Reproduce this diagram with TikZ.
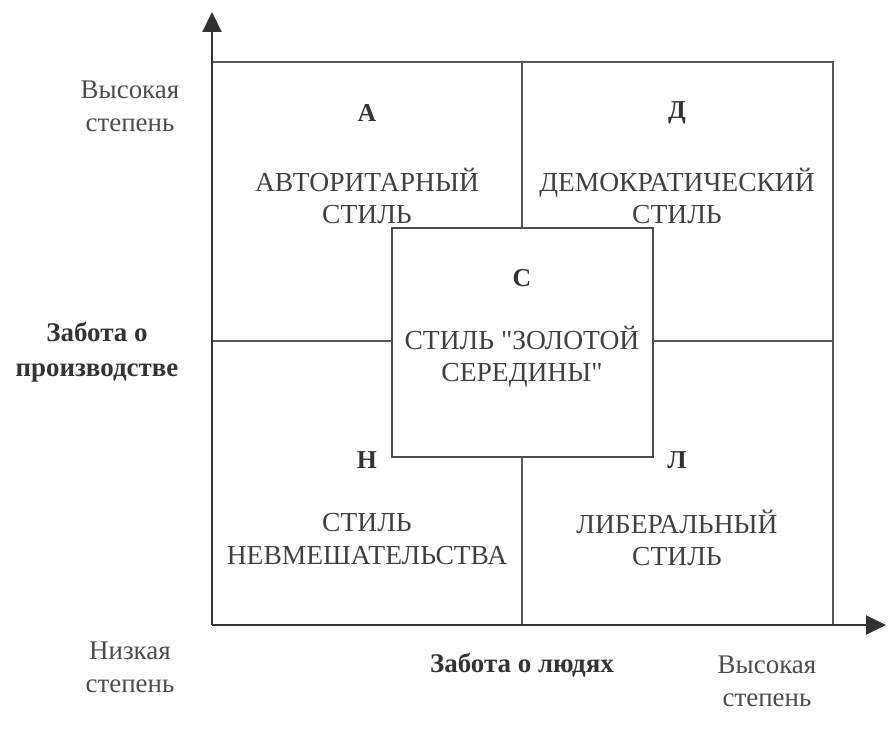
\documentclass[tikz,border=0pt]{standalone}
\usepackage{fontspec}
\setmainfont{Liberation Serif}[Ligatures=TeXOff]
\usetikzlibrary{arrows.meta}
\begin{document}
\begin{tikzpicture}[x=0.03cm,y=-0.03cm,
  axis/.style={line width=2.4pt,draw=black!80,-{Triangle[length=17pt,width=16pt]}},
  grid/.style={line width=1.1pt,draw=black!65},
  txt/.style={align=center,text=black!75,font=\fontsize{23.5}{27.5}\selectfont,inner sep=0pt},
  letter/.style={text=black!80,font=\fontsize{22}{25}\selectfont\bfseries,inner sep=0pt},
  axlab/.style={align=center,text=black!80,font=\fontsize{23}{29.5}\selectfont\bfseries,inner sep=0pt},
  degree/.style={align=center,text=black!70,font=\fontsize{23}{28}\selectfont,inner sep=0pt},
  ]
\useasboundingbox (0,0) rectangle (895,736);
% corners
\coordinate (O) at (212,625);
\coordinate (TL) at (212,62);
\coordinate (TR) at (833,62);
\coordinate (BR) at (833,625);
\coordinate (TM) at (522,62);
\coordinate (BM) at (522,625);
\coordinate (LM) at (212,341);
\coordinate (RM) at (833,341);
\coordinate (Ytip) at (212,12);
\coordinate (Xtip) at (886,625);
% grid
\draw[grid] (TL) -- (TR) -- (BR);
\draw[grid] (TM) -- (BM);
\draw[grid] (LM) -- (RM);
% centre box
\node[draw=black!70,line width=1.1pt,fill=white,minimum width=261*0.03cm,minimum height=229*0.03cm,inner sep=0pt] (C) at (522.5,342.5) {};
% axes
\draw[axis] (O) -- (Ytip);
\draw[axis] (O) -- (Xtip);
% letters
\node[letter] (a) at (367,113) {А};
\node[letter] (d) at (677,113) {Д};
\node[letter] (c) at (522,278) {С};
\node[letter] (n) at (367,460) {Н};
\node[letter] (l) at (677,460) {Л};
% styles
\node[txt] (s1) at (367,196) {АВТОРИТАРНЫЙ\\СТИЛЬ};
\node[txt] (s2) at (677,196) {ДЕМОКРАТИЧЕСКИЙ\\СТИЛЬ};
\node[txt] (s3) at (522,357) {СТИЛЬ \symbol{34}ЗОЛОТОЙ\\СЕРЕДИНЫ\symbol{34}};
\node[txt] (s4) at (367,539) {СТИЛЬ\\НЕВМЕШАТЕЛЬСТВА};
\node[txt] (s5) at (677,538) {ЛИБЕРАЛЬНЫЙ\\СТИЛЬ};
% axis labels
\node[axlab] (yl) at (97,352) {Забота о\\производстве};
\node[axlab] (xl) at (522,665) {Забота о людях};
\node[degree] (hy) at (130,106) {Высокая\\степень};
\node[degree] (lo) at (130,667) {Низкая\\степень};
\node[degree] (hx) at (767,681) {Высокая\\степень};
\end{tikzpicture}
\end{document}
